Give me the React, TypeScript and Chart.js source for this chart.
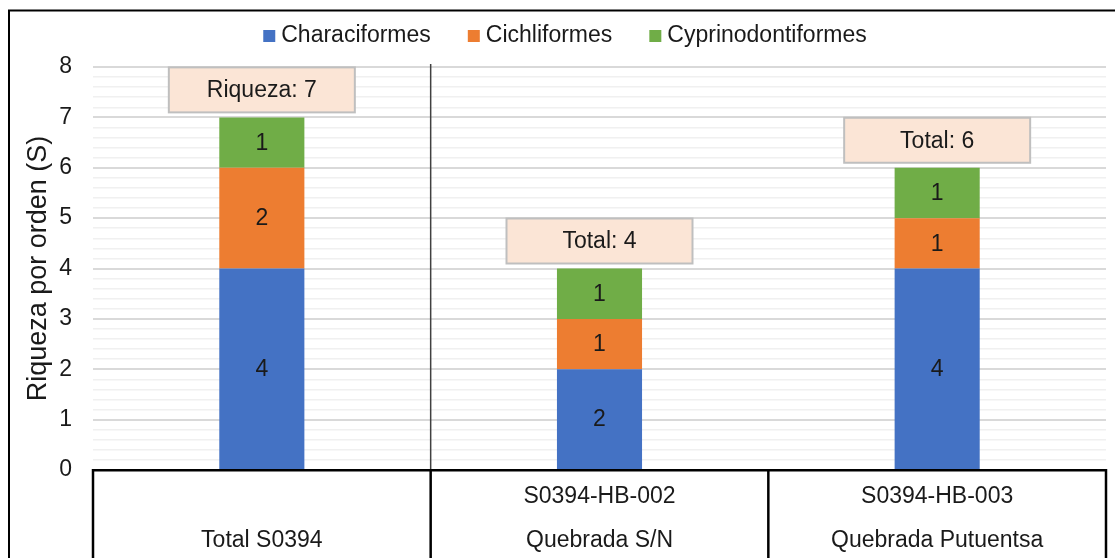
import { useEffect, useRef } from "react";
import { Chart, registerables } from "chart.js";

Chart.register(...registerables);

// Sites (two-level category labels) and richness per fish order
const siteCodes = ["", "S0394-HB-002", "S0394-HB-003"];
const siteNames = ["Total S0394", "Quebrada S/N", "Quebrada Putuentsa"];
const totalPrefixes = ["Riqueza", "Total", "Total"];
const orderNames = ["Characiformes", "Cichliformes", "Cyprinodontiformes"];
const characiformes = [4, 2, 4];
const cichliformes = [2, 1, 1];
const cyprinodontiformes = [1, 1, 1];
const yMin = 0;
const yMax = 8;
const yStep = 0.2;

const orderColors = ["#4472C4", "#ED7D31", "#70AD47"];
const FONT = "'Liberation Sans', Arial, sans-serif";
const TEXT = "#1a1a1a";

const isWhole = (v: number) => Math.abs(v - Math.round(v)) < 1e-6;

const decorations = {
  id: "decorations",
  beforeDraw(chart: any) {
    const { ctx, width, height } = chart;
    ctx.save();
    ctx.fillStyle = "#ffffff";
    ctx.fillRect(0, 0, width, height);
    // outer frame of the chart object
    ctx.strokeStyle = "#000000";
    ctx.lineWidth = 2;
    ctx.beginPath();
    ctx.moveTo(9, height + 2);
    ctx.lineTo(9, 10.5);
    ctx.lineTo(width + 2, 10.5);
    ctx.stroke();
    ctx.restore();
  },
  afterDatasetsDraw(chart: any) {
    const { ctx, chartArea, scales, height } = chart;
    const xs = scales.x;
    ctx.save();

    // separator between the overall total and the individual sites
    const mid01 = (xs.getPixelForValue(0) + xs.getPixelForValue(1)) / 2;
    const mid12 = (xs.getPixelForValue(1) + xs.getPixelForValue(2)) / 2;
    ctx.strokeStyle = "#404040";
    ctx.lineWidth = 1.5;
    ctx.beginPath();
    ctx.moveTo(mid01, chartArea.top - 3);
    ctx.lineTo(mid01, chartArea.bottom);
    ctx.stroke();

    // category table lines under the axis
    ctx.strokeStyle = "#000000";
    ctx.lineWidth = 2.5;
    [chartArea.left, mid01, mid12, chartArea.right].forEach((x) => {
      ctx.beginPath();
      ctx.moveTo(x, chartArea.bottom - 1);
      ctx.lineTo(x, height);
      ctx.stroke();
    });

    // values inside each stacked segment
    ctx.font = `23px ${FONT}`;
    ctx.fillStyle = TEXT;
    ctx.textAlign = "center";
    ctx.textBaseline = "middle";
    chart.data.datasets.forEach((ds: any, di: number) => {
      const meta = chart.getDatasetMeta(di);
      meta.data.forEach((bar: any, i: number) => {
        const v = ds.data[i];
        if (!v) return;
        ctx.fillText(String(v), bar.x, (bar.y + bar.base) / 2 + 1);
      });
    });

    // total boxes above each column
    const last = chart.getDatasetMeta(chart.data.datasets.length - 1);
    last.data.forEach((bar: any, i: number) => {
      const total = chart.data.datasets.reduce((s: number, ds: any) => s + ds.data[i], 0);
      const w = 186;
      const h = 45;
      const bottom = bar.y - 5;
      const left = bar.x - w / 2;
      ctx.fillStyle = "#FBE5D6";
      ctx.fillRect(left, bottom - h, w, h);
      ctx.strokeStyle = "#BFBFBF";
      ctx.lineWidth = 2;
      ctx.strokeRect(left, bottom - h, w, h);
      ctx.fillStyle = TEXT;
      ctx.fillText(`${totalPrefixes[i]}: ${total}`, bar.x, bottom - h / 2 + 1);
    });

    // legend
    ctx.font = `23px ${FONT}`;
    ctx.textAlign = "left";
    const box = 12;
    const gap = 6;
    const spacing = 37;
    const widths = chart.data.datasets.map((ds: any) => box + gap + ctx.measureText(ds.label).width);
    const totalW = widths.reduce((a: number, b: number) => a + b, 0) + spacing * (widths.length - 1);
    let x = 565 - totalW / 2;
    const cy = 36;
    chart.data.datasets.forEach((ds: any, di: number) => {
      ctx.fillStyle = ds.backgroundColor;
      ctx.fillRect(x, cy - box / 2, box, box);
      ctx.fillStyle = TEXT;
      ctx.fillText(ds.label, x + box + gap, cy);
      x += widths[di] + spacing;
    });

    ctx.restore();
  },
};

export default function App() {
  const canvasRef = useRef<HTMLCanvasElement | null>(null);

  useEffect(() => {
    if (!canvasRef.current) return;
    const series = [characiformes, cichliformes, cyprinodontiformes];
    const chart = new Chart(canvasRef.current, {
      type: "bar",
      data: {
        labels: siteCodes.map((code, i) => [code, siteNames[i]]),
        datasets: orderNames.map((name, i) => ({
          label: name,
          data: series[i],
          backgroundColor: orderColors[i],
          borderWidth: 0,
          categoryPercentage: 1,
          barPercentage: 0.252,
        })),
      },
      options: {
        responsive: false,
        animation: false,
        layout: { padding: { top: 67, right: 9, left: 0, bottom: 0 } },
        plugins: {
          legend: { display: false },
          tooltip: { enabled: false },
        },
        scales: {
          x: {
            stacked: true,
            grid: { display: false, drawTicks: false },
            border: { display: true, color: "#000000", width: 2.5 },
            ticks: {
              color: TEXT,
              padding: 5,
              maxRotation: 0,
              autoSkip: false,
              font: { family: FONT, size: 23, lineHeight: 44 / 23 },
            },
            afterFit: (scale: any) => {
              scale.height = 88;
            },
          },
          y: {
            stacked: true,
            min: yMin,
            max: yMax,
            border: { display: false },
            grid: {
              drawTicks: false,
              color: (c: any) => (isWhole(c.tick.value) ? "#D9D9D9" : "#F0F0F0"),
              lineWidth: (c: any) => (isWhole(c.tick.value) ? 2 : 1.5),
            },
            ticks: {
              stepSize: yStep,
              autoSkip: false,
              padding: 21,
              color: TEXT,
              font: { family: FONT, size: 23 },
              callback: (v: any) => (isWhole(Number(v)) ? String(Math.round(Number(v))) : ""),
            },
            title: {
              display: true,
              text: "Riqueza por orden (S)",
              color: TEXT,
              padding: { top: 22, bottom: 0 },
              font: { family: FONT, size: 27 },
            },
            afterFit: (scale: any) => {
              scale.width = 93;
            },
          },
        },
      },
      plugins: [decorations],
    });
    return () => chart.destroy();
  }, []);

  return (
    <div style={{ position: "absolute", left: 0, top: 0, width: 1115, height: 558 }}>
      <canvas ref={canvasRef} width={1115} height={558} />
    </div>
  );
}
